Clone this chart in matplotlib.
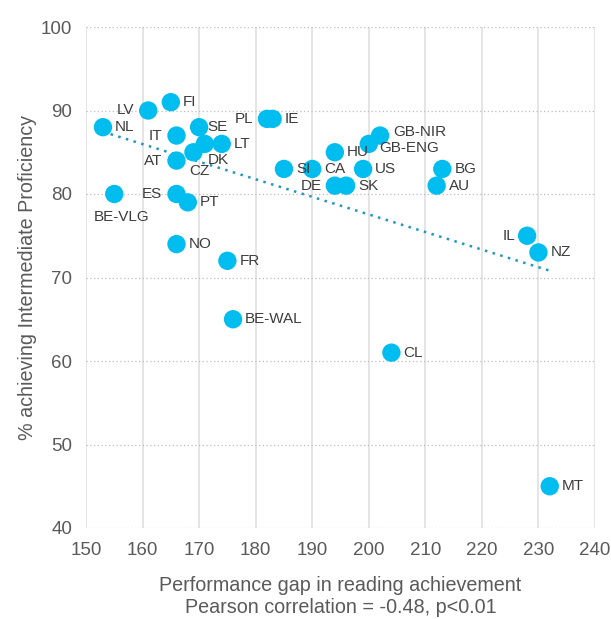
import matplotlib
matplotlib.use("Agg")
import matplotlib.pyplot as plt
import numpy as np

# data
countries = ["NL", "BE-VLG", "LV", "FI", "IT", "AT", "SE", "ES", "PT", "NO",
             "CZ", "DK", "LT", "FR", "BE-WAL", "PL", "IE", "SI", "CA", "HU",
             "DE", "SK", "US", "GB-ENG", "GB-NIR", "CL", "AU", "BG", "IL", "NZ", "MT"]
gap = [153, 155, 161, 165, 166, 166, 170, 166, 168, 166,
       169, 171, 174, 175, 176, 182, 183, 185, 190, 194,
       194, 196, 199, 200, 202, 204, 212, 213, 228, 230, 232]
proficiency = [88, 80, 90, 91, 87, 84, 88, 80, 79, 74,
               85, 86, 86, 72, 65, 89, 89, 83, 83, 85,
               81, 81, 83, 86, 87, 61, 81, 83, 75, 73, 45]

# label placement (pixel offsets from point, alignment)
label_pos = {
    "LV": (-14, 0, "right"), "IT": (-14, 0, "right"), "AT": (-14, 0, "right"),
    "ES": (-14, 0, "right"), "PL": (-14, 0, "right"), "DE": (-13, 0, "right"),
    "IL": (-12, 0, "right"), "BE-VLG": (7, -23, "center"),
    "CZ": (6, -19, "center"), "DK": (3, -16, "left"),
    "SE": (8, 0, "left"), "GB-ENG": (10, -4, "left"), "GB-NIR": (13, 4, "left"),
}

BLUE = "#00bdf0"
TEXT = "#5a5a5a"

plt.rcParams["font.family"] = ["Liberation Sans", "DejaVu Sans"]

fig = plt.figure(figsize=(6.11, 6.19), dpi=100)
ax = fig.add_axes([86 / 611, 1 - 528 / 619, 509 / 611, 501 / 619])

ax.set_xlim(150, 240)
ax.set_ylim(40, 100)
ax.set_xticks(np.arange(150, 241, 10))
ax.set_yticks(np.arange(40, 101, 10))

for x in np.arange(150, 241, 10):
    ax.axvline(x, color="#e0e0e0", lw=1.2, zorder=0)
for y in np.arange(40, 101, 10):
    ax.axhline(y, color="#bdbdbd", lw=0.9, ls=(0, (1, 2)), zorder=0)

for s in ax.spines.values():
    s.set_visible(False)
ax.tick_params(length=0, labelsize=13.5, labelcolor=TEXT, pad=10)

# linear trend over the data range
coef = np.polyfit(gap, proficiency, 1)
xs = np.array([min(gap), max(gap)])
ax.plot(xs, np.polyval(coef, xs), color="#1f95c6", lw=1.8,
        ls=(0, (1, 2.2)), zorder=1)

ax.scatter(gap, proficiency, s=175, color=BLUE, edgecolors="none", zorder=2)

for name, x, y in zip(countries, gap, proficiency):
    dx, dy, ha = label_pos.get(name, (12, 0, "left"))
    ax.annotate(name, (x, y), xytext=(dx * 0.72, dy * 0.72),
                textcoords="offset points", ha=ha, va="center",
                fontsize=11, color="#3c3c3c", zorder=3)

ax.set_xlabel("Performance gap in reading achievement\nPearson correlation = -0.48, p<0.01",
              fontsize=14.2, color=TEXT, labelpad=12, linespacing=1.2)
ax.set_ylabel("% achieving Intermediate Proficiency", fontsize=14.2,
              color=TEXT, labelpad=3)

fig.savefig("out.png", dpi=100)
